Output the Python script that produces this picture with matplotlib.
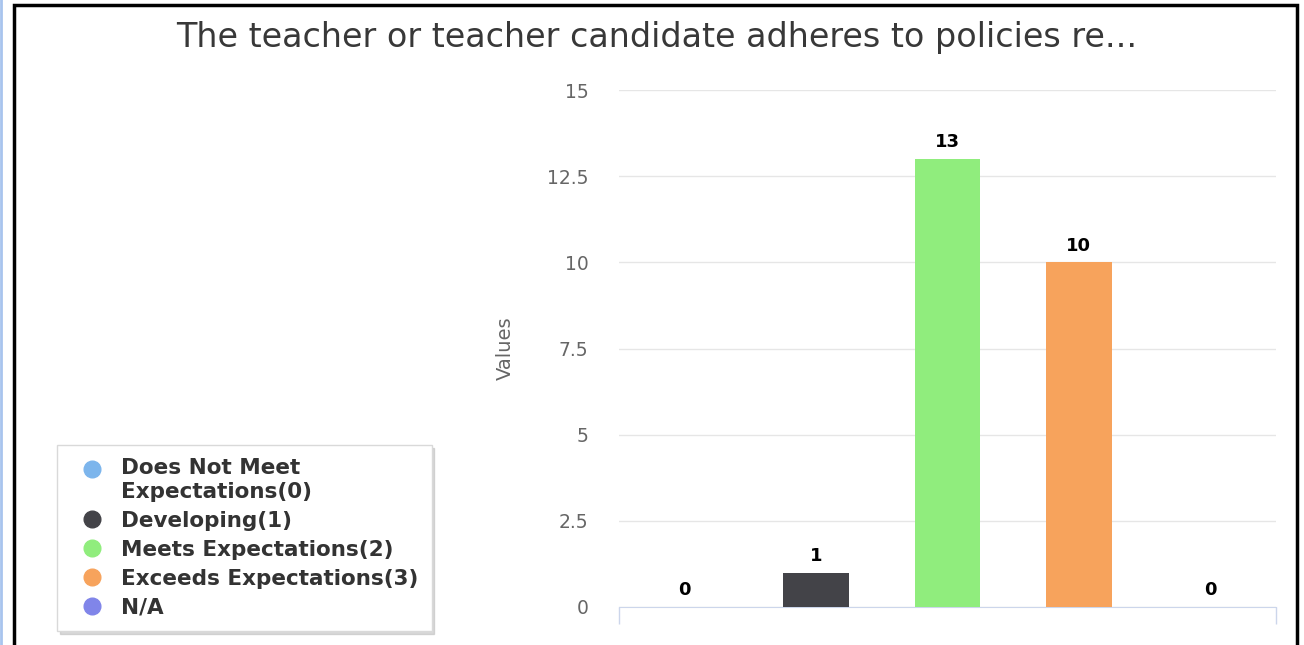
import matplotlib
matplotlib.use("Agg")
import matplotlib.pyplot as plt
from matplotlib.lines import Line2D
from matplotlib.patches import Rectangle

plt.rcParams['font.family'] = ['DejaVu Sans']

title = "The teacher or teacher candidate adheres to policies re..."
categories = ["Does Not Meet\nExpectations(0)", "Developing(1)", "Meets Expectations(2)",
              "Exceeds Expectations(3)", "N/A"]
values = [0, 1, 13, 10, 0]
colors = ["#7cb5ec", "#434348", "#90ed7d", "#f7a35c", "#8085e9"]
yticks = [0, 2.5, 5, 7.5, 10, 12.5, 15]
ytick_labels = ["0", "2.5", "5", "7.5", "10", "12.5", "15"]

W, H = 1304, 645
fig = plt.figure(figsize=(W / 100, H / 100), dpi=100)
fig.patch.set_facecolor('white')

ax = fig.add_axes([619 / W, 1 - 607 / H, (1276 - 619) / W, (607 - 90) / H])
x = list(range(len(values)))
ax.bar(x, values, width=0.5, color=colors, zorder=3)
for xi, v in zip(x, values):
    ax.annotate(str(v), (xi, v), xytext=(0, 5.5), textcoords='offset points',
                ha='center', va='bottom', fontsize=13, fontweight='bold', color='black')

ax.set_xlim(-0.5, len(values) - 0.5)
ax.set_ylim(0, 15)
ax.set_yticks(yticks)
ax.set_yticklabels(ytick_labels)
ax.tick_params(axis='y', length=0, pad=22, labelsize=13.5, labelcolor='#666666')
ax.set_xticks([-0.5, len(values) - 0.5])
ax.set_xticklabels([])
ax.tick_params(axis='x', length=12, width=1, color='#ccd6eb')
ax.grid(axis='y', color='#e6e6e6', linewidth=1, zorder=0)
for s in ['top', 'right', 'left']:
    ax.spines[s].set_visible(False)
ax.spines['bottom'].set_color('#ccd6eb')
ax.set_ylabel("Values", fontsize=14, color='#666666')
ax.yaxis.set_label_coords((515 - 619) / (1276 - 619), 0.5)

fig.text(657 / W, 1 - 38 / H, title, ha='center', va='center', fontsize=24, color='#383838')

handles = [Line2D([], [], linestyle='none', marker='o', markersize=12,
                  markerfacecolor=c, markeredgecolor=c) for c in colors]
leg = fig.legend(handles, categories, loc='upper left',
                 bbox_to_anchor=(57 / W, 1 - 445 / H), frameon=True,
                 shadow={'color': '#bfbfbf', 'alpha': 0.6},
                 fancybox=False, prop={'weight': 'bold', 'size': 15.5},
                 labelcolor='#333333', handletextpad=0.35, labelspacing=0.42,
                 borderpad=0.62, handlelength=2.0, borderaxespad=0)
leg.get_frame().set_edgecolor('#d9d9d9')
leg.get_frame().set_linewidth(1)
# first entry wraps onto two lines: put its dot beside the first line
first = leg.legend_handles[0]
first.set_ydata([y + 8 for y in first.get_ydata()])

# screenshot frame
fig.patches.append(Rectangle((14 / W, -0.05), (1297 - 14) / W, 1.05 - 5 / H,
                             transform=fig.transFigure, fill=False,
                             edgecolor='black', linewidth=2.5))
fig.lines.append(Line2D([1 / W, 1 / W], [0, 1], transform=fig.transFigure,
                        color='#a8c4ee', linewidth=2))

fig.savefig("out.png", dpi=100)
